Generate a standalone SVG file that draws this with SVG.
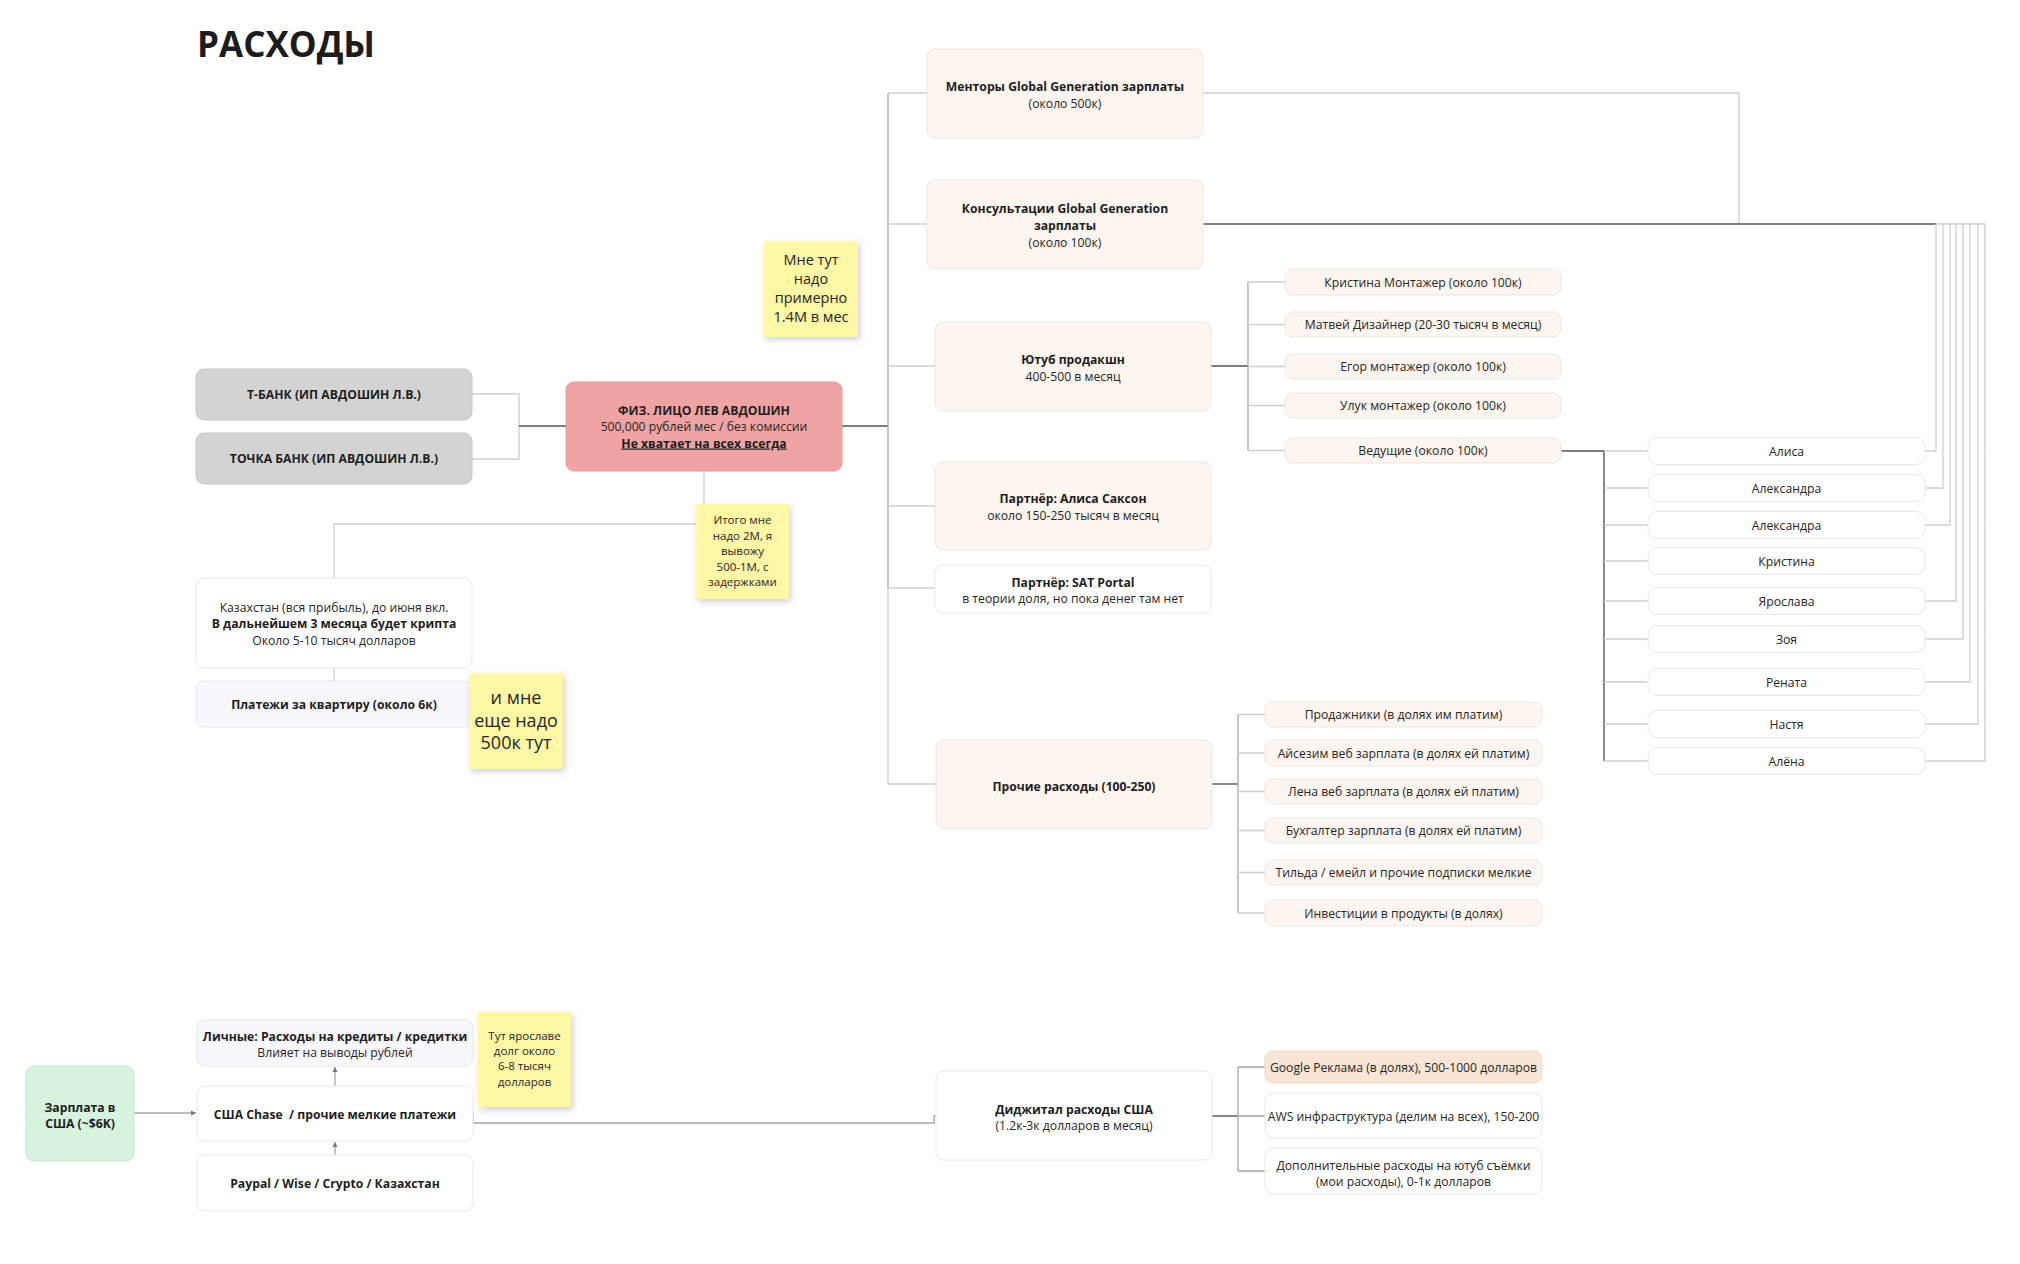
<svg xmlns="http://www.w3.org/2000/svg" width="2020" height="1264" viewBox="0 0 2020 1264">
<defs>
<style>
text{font-family:"Open Sans","Noto Sans","DejaVu Sans",sans-serif;fill:#262626;font-size:12.2px;text-anchor:middle}
.b{font-weight:700;fill:#1e1e1e}
.title{font-size:35px;font-weight:700;text-anchor:start;fill:#1c1c1c}
.beige{fill:#fcf5f0;stroke:#efe6e0;stroke-width:1}
.white{fill:#ffffff;stroke:#e8e8e8;stroke-width:1}
.gray{fill:#d3d3d3;stroke:#c9c9c9;stroke-width:1}
.pink{fill:#f0a3a3;stroke:#e89a9a;stroke-width:1}
.lav{fill:#f8f7fd;stroke:#e6e6ee;stroke-width:1}
.green{fill:#d6f3dd;stroke:#c8e8d0;stroke-width:1}
.peach{fill:#f8e5d5;stroke:#efd8c6;stroke-width:1}
.sticky{fill:#fff6a6;filter:url(#sh)}
.st{font-size:11.5px}
.lt{fill:none;stroke:#cfcfcf;stroke-width:1.3}
.md{fill:none;stroke:#a8a8a8;stroke-width:1.3}
.dk{fill:none;stroke:#555;stroke-width:1.4}
</style>
<filter id="sh" x="-20%" y="-20%" width="150%" height="150%">
<feDropShadow dx="2" dy="3" stdDeviation="3" flood-color="#000" flood-opacity="0.18"/>
</filter>
<marker id="ar" markerWidth="6" markerHeight="6" refX="5" refY="3" orient="auto" markerUnits="userSpaceOnUse">
<path d="M0,0.5 L5,3 L0,5.5 z" fill="#777"/>
</marker>
</defs>
<rect width="2020" height="1264" fill="#ffffff"/>
<text class="title" x="197" y="57">РАСХОДЫ</text>

<g id="connectors">
<path class="lt" d="M472,394 H519 V459 H472"/>
<path class="dk" d="M519,426 H566"/>
<path class="dk" d="M842,426 H888"/>
<path class="md" d="M888,93 V589"/>
<path class="lt" d="M888,589 V784"/>
<path class="lt" d="M888,93 H927 M888,224 H927 M888,366 H935 M888,506 H935 M888,588 H935 M888,784 H936"/>
<path class="lt" d="M704,471 V504"/>
<path class="lt" d="M696,524 H334 V578"/>
<path class="lt" d="M334,668 V681"/>
<path class="lt" d="M1203,93 H1739 V224"/>
<path class="dk" d="M1203,224 H1936"/>
<path class="lt" d="M1936,224 H1985 M1925,451 H1936 V224 M1925,488 H1943 V224 M1925,525 H1950 V224 M1925,601 H1956 V224 M1925,639 H1963 V224 M1925,682 H1970 V224 M1925,724 H1978 V224 M1925,761 H1985 V224"/>
<path class="dk" d="M1211,366 H1248"/>
<path class="md" d="M1248,282 V451"/>
<path class="lt" d="M1248,282 H1285 M1248,324.5 H1285 M1248,366.5 H1285 M1248,405.5 H1285 M1248,450.5 H1285"/>
<path class="dk" d="M1561,451 H1604 V761"/>
<path class="lt" d="M1604,451 H1648 M1604,488 H1648 M1604,525 H1648 M1604,561 H1648 M1604,601 H1648 M1604,639 H1648 M1604,682 H1648 M1604,724 H1648 M1604,761 H1648"/>
<path class="dk" d="M1212,784 H1238"/>
<path class="md" d="M1238,714 V913"/>
<path class="lt" d="M1238,714.5 H1265 M1238,753 H1265 M1238,791.5 H1265 M1238,830.5 H1265 M1238,872.5 H1265 M1238,913 H1265"/>
<path class="dk" d="M1212,1116 H1238"/>
<path class="md" d="M1238,1067 V1171 M1238,1067 H1265 M1238,1116 H1265 M1238,1171 H1265"/>
<path class="md" d="M134,1113 H196" marker-end="url(#ar)"/>
<path class="md" d="M335,1155 V1142" marker-end="url(#ar)"/>
<path class="md" d="M335,1086 V1067" marker-end="url(#ar)"/>
<path class="md" d="M473,1113 V1123 H934 V1116 H936"/>
</g>

<g id="tbank"><rect class="gray" x="196" y="369" width="276" height="51" rx="8"/><text class="b" x="334" y="399">Т-БАНК (ИП АВДОШИН Л.В.)</text></g>
<g id="tochka"><rect class="gray" x="196" y="433" width="276" height="51" rx="8"/><text class="b" x="334" y="463">ТОЧКА БАНК (ИП АВДОШИН Л.В.)</text></g>
<g id="fiz"><rect class="pink" x="566" y="382" width="276" height="89" rx="8"/>
<text class="b" x="704" y="414.5">ФИЗ. ЛИЦО ЛЕВ АВДОШИН</text>
<text x="704" y="431">500,000 рублей мес / без комиссии</text>
<text class="b" x="704" y="447.5" text-decoration="underline">Не хватает на всех всегда</text></g>

<g id="note-itogo"><rect class="sticky" x="696" y="504" width="93" height="95"/>
<text class="st" x="742.5" y="524">Итого мне</text><text class="st" x="742.5" y="539.5">надо 2М, я</text><text class="st" x="742.5" y="555">вывожу</text><text class="st" x="742.5" y="570.5">500-1М, с</text><text class="st" x="742.5" y="586">задержками</text></g>

<g id="kz"><rect class="white" x="196" y="578" width="276" height="90" rx="8"/>
<text x="334" y="611.5">Казахстан (вся прибыль), до июня вкл.</text>
<text class="b" x="334" y="628">В дальнейшем 3 месяца будет крипта</text>
<text x="334" y="644.5">Около 5-10 тысяч долларов</text></g>
<g id="kvartira"><rect class="lav" x="196" y="681" width="276" height="46" rx="8"/><text class="b" x="334" y="708.5">Платежи за квартиру (около 6к)</text></g>
<g id="note-500k"><rect class="sticky" x="469" y="673" width="94" height="96"/>
<text x="516" y="704" style="font-size:18px">и мне</text><text x="516" y="726.5" style="font-size:18px">еще надо</text><text x="516" y="749" style="font-size:18px">500к тут</text></g>
<g id="note-14m"><rect class="sticky" x="764" y="241" width="94" height="96"/>
<text x="811" y="265" style="font-size:14.5px">Мне тут</text><text x="811" y="284" style="font-size:14.5px">надо</text><text x="811" y="303" style="font-size:14.5px">примерно</text><text x="811" y="321.5" style="font-size:14.5px">1.4М в мес</text></g>

<g id="mentory"><rect class="beige" x="927" y="49" width="276" height="89" rx="8"/>
<text class="b" x="1065" y="90.5">Менторы Global Generation зарплаты</text><text x="1065" y="107.5">(около 500к)</text></g>
<g id="konsult"><rect class="beige" x="927" y="180" width="276" height="89" rx="8"/>
<text class="b" x="1065" y="212.5">Консультации Global Generation</text><text class="b" x="1065" y="229.5">зарплаты</text><text x="1065" y="246.5">(около 100к)</text></g>
<g id="youtube"><rect class="beige" x="935" y="322" width="276" height="89" rx="8"/>
<text class="b" x="1073" y="363.5">Ютуб продакшн</text><text x="1073" y="380.5">400-500 в месяц</text></g>
<g id="alisa-saxon"><rect class="beige" x="935" y="462" width="276" height="88" rx="8"/>
<text class="b" x="1073" y="502.5">Партнёр: Алиса Саксон</text><text x="1073" y="519.5">около 150-250 тысяч в месяц</text></g>
<g id="sat"><rect class="white" x="935" y="565" width="276" height="48" rx="8"/>
<text class="b" x="1073" y="586.5">Партнёр: SAT Portal</text><text x="1073" y="602.5">в теории доля, но пока денег там нет</text></g>
<g id="prochie"><rect class="beige" x="936" y="740" width="276" height="89" rx="8"/><text class="b" x="1074" y="790.5">Прочие расходы (100-250)</text></g>

<g id="yt-kristina"><rect class="beige" x="1285" y="269" width="276" height="26" rx="8"/><text x="1423" y="286.5">Кристина Монтажер (около 100к)</text></g>
<g id="yt-matvey"><rect class="beige" x="1285" y="312" width="276" height="25" rx="8"/><text x="1423" y="329">Матвей Дизайнер (20-30 тысяч в месяц)</text></g>
<g id="yt-egor"><rect class="beige" x="1285" y="354" width="276" height="25" rx="8"/><text x="1423" y="371">Егор монтажер (около 100к)</text></g>
<g id="yt-uluk"><rect class="beige" x="1285" y="393" width="276" height="25" rx="8"/><text x="1423" y="410">Улук монтажер (около 100к)</text></g>
<g id="yt-vedushie"><rect class="beige" x="1285" y="438" width="276" height="25" rx="8"/><text x="1423" y="455">Ведущие (около 100к)</text></g>

<g id="p-alisa"><rect class="white" x="1648" y="437.5" width="277" height="27" rx="9"/><text x="1786.5" y="455.5">Алиса</text></g>
<g id="p-aleksandra1"><rect class="white" x="1648" y="474.5" width="277" height="27" rx="9"/><text x="1786.5" y="492.5">Александра</text></g>
<g id="p-aleksandra2"><rect class="white" x="1648" y="511.5" width="277" height="27" rx="9"/><text x="1786.5" y="529.5">Александра</text></g>
<g id="p-kristina"><rect class="white" x="1648" y="547.5" width="277" height="27" rx="9"/><text x="1786.5" y="565.5">Кристина</text></g>
<g id="p-yaroslava"><rect class="white" x="1648" y="587.5" width="277" height="27" rx="9"/><text x="1786.5" y="605.5">Ярослава</text></g>
<g id="p-zoya"><rect class="white" x="1648" y="625.5" width="277" height="27" rx="9"/><text x="1786.5" y="643.5">Зоя</text></g>
<g id="p-renata"><rect class="white" x="1648" y="668.5" width="277" height="27" rx="9"/><text x="1786.5" y="686.5">Рената</text></g>
<g id="p-nastya"><rect class="white" x="1648" y="710.5" width="277" height="27" rx="9"/><text x="1786.5" y="728.5">Настя</text></g>
<g id="p-alena"><rect class="white" x="1648" y="747.5" width="277" height="27" rx="9"/><text x="1786.5" y="765.5">Алёна</text></g>

<g id="pr-prodazhniki"><rect class="beige" x="1265" y="702" width="277" height="25" rx="8"/><text x="1403.5" y="719">Продажники (в долях им платим)</text></g>
<g id="pr-aysezim"><rect class="beige" x="1265" y="740" width="277" height="26" rx="8"/><text x="1403.5" y="757.5">Айсезим веб зарплата (в долях ей платим)</text></g>
<g id="pr-lena"><rect class="beige" x="1265" y="779" width="277" height="25" rx="8"/><text x="1403.5" y="796">Лена веб зарплата (в долях ей платим)</text></g>
<g id="pr-buh"><rect class="beige" x="1265" y="818" width="277" height="25" rx="8"/><text x="1403.5" y="835">Бухгалтер зарплата (в долях ей платим)</text></g>
<g id="pr-tilda"><rect class="beige" x="1265" y="860" width="277" height="25" rx="8"/><text x="1403.5" y="877">Тильда / емейл и прочие подписки мелкие</text></g>
<g id="pr-invest"><rect class="beige" x="1265" y="900" width="277" height="26" rx="8"/><text x="1403.5" y="917.5">Инвестиции в продукты (в долях)</text></g>

<g id="zarplata"><rect class="green" x="26" y="1066" width="108" height="95" rx="8"/>
<text class="b" x="80" y="1111.5">Зарплата в</text><text class="b" x="80" y="1127.5">США (~$6K)</text></g>
<g id="lichnye"><rect class="lav" x="197" y="1020" width="276" height="46" rx="8"/>
<text class="b" x="335" y="1040.5">Личные: Расходы на кредиты / кредитки</text><text x="335" y="1056.5">Влияет на выводы рублей</text></g>
<g id="chase"><rect class="white" x="197" y="1086" width="276" height="55" rx="8"/><text class="b" x="335" y="1118.5">США Chase&#160; / прочие мелкие платежи</text></g>
<g id="paypal"><rect class="white" x="197" y="1155" width="276" height="56" rx="8"/><text class="b" x="335" y="1187.5">Paypal / Wise / Crypto / Казахстан</text></g>
<g id="note-yaroslava"><rect class="sticky" x="478" y="1012" width="93" height="95"/>
<text class="st" x="524.5" y="1040">Тут ярославе</text><text class="st" x="524.5" y="1055">долг около</text><text class="st" x="524.5" y="1070">6-8 тысяч</text><text class="st" x="524.5" y="1086">долларов</text></g>

<g id="digital"><rect class="white" x="936" y="1071" width="276" height="89" rx="8"/>
<text class="b" x="1074" y="1113.5">Диджитал расходы США</text><text x="1074" y="1129.5">(1.2к-3к долларов в месяц)</text></g>
<g id="d-google"><rect class="peach" x="1265" y="1051" width="277" height="32" rx="8"/><text x="1403.5" y="1071.5">Google Реклама (в долях), 500-1000 долларов</text></g>
<g id="d-aws"><rect class="white" x="1265" y="1093" width="277" height="45" rx="8"/><text x="1403.5" y="1120.5">AWS инфраструктура (делим на всех), 150-200</text></g>
<g id="d-dop"><rect class="white" x="1265" y="1148" width="277" height="46" rx="8"/>
<text x="1403.5" y="1169.5">Дополнительные расходы на ютуб съёмки</text><text x="1403.5" y="1185.5">(мои расходы), 0-1к долларов</text></g>
</svg>
